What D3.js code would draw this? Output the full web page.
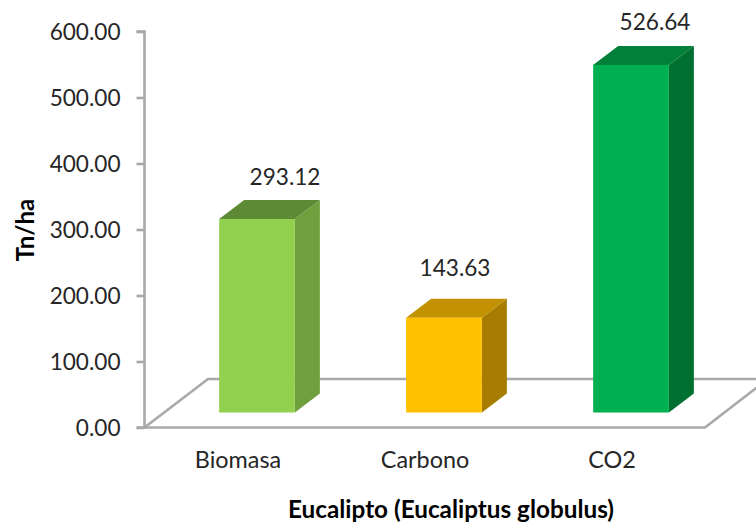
<!DOCTYPE html>
<html><head><meta charset="utf-8">
<script src="https://cdn.jsdelivr.net/npm/d3@7"></script>
<style>html,body{margin:0;background:#fff}svg{display:block}text{font-family:Lato,"Open Sans",sans-serif;fill:#262626}</style>
</head><body><svg id="c" width="756" height="526"></svg>
<script>
const categories=["Biomasa","Carbono","CO2"];
const values=[293.12,143.63,526.64];
const labels=["293.12","143.63","526.64"];
const frontColors=["#92d050","#ffc000","#00b050"];
const sideColors=["#70a03e","#a67d00","#007030"];
const topColors=["#5f8a35","#c29200","#008038"];
const yTicks=[0,100,200,300,400,500,600];
const xTitle="Eucalipto (Eucaliptus globulus)";
const yTitle="Tn/ha";

const svg=d3.select("#c");
const y=d3.scaleLinear().domain([0,600]).range([427.5,31.5]);
const x=d3.scaleBand().domain(categories).range([163.5,724.5]).paddingInner(0.595).paddingOuter(0.2975);
const dx=25,dy=19,lift=15;
const labelShiftX=[28,11,24],labelShiftY=[-34,-42,-35];
const gray="#a9a9a9";
const line=(pts,w=2.6)=>svg.append("path").attr("d",d3.line()(pts)).attr("fill","none").attr("stroke",gray).attr("stroke-width",w);
// floor
line([[144.5,y(0)],[208,379],[760,379]]);
line([[144.5,y(0)],[705,y(0)],[760,385]]);
// axis
const ax=svg.append("g").attr("transform","translate(144.5,0)")
 .call(d3.axisLeft(y).tickValues(yTicks).tickFormat(d3.format(".2f")).tickSize(8).tickPadding(16));
ax.selectAll("path,line").attr("stroke",gray).attr("stroke-width",2.6);
ax.select("path").attr("d","M-8,31.5H0V427.5H-8");
ax.selectAll("text").attr("font-size",22.6).attr("dy","0.36em").attr("fill","#262626");
// bars
categories.forEach((c,i)=>{
 const x0=x(c),x1=x0+x.bandwidth(),mid=x0+x.bandwidth()/2,b=y(0)-lift,t=y(values[i])-lift;
 svg.append("polygon").attr("points",[[x1,t],[x1+dx,t-dy],[x1+dx,b-dy],[x1,b]].join(" ")).attr("fill",sideColors[i]);
 svg.append("polygon").attr("points",[[x0,t],[x0+dx,t-dy],[x1+dx,t-dy],[x1,t]].join(" ")).attr("fill",topColors[i]);
 svg.append("rect").attr("x",x0).attr("y",t).attr("width",x.bandwidth()).attr("height",b-t).attr("fill",frontColors[i]);
 svg.append("text").attr("x",mid+labelShiftX[i]).attr("y",t+labelShiftY[i]).attr("text-anchor","middle").attr("font-size",22.6).text(labels[i]);
 svg.append("text").attr("x",mid-19).attr("y",468).attr("text-anchor","middle").attr("font-size",23.4).text(c);
});
svg.append("text").attr("x",451).attr("y",518).attr("text-anchor","middle").attr("font-size",24.3).attr("font-weight",700).style("fill","#000").text(xTitle);
svg.append("text").attr("transform","translate(34,230) rotate(-90)").attr("text-anchor","middle").attr("font-size",24).attr("font-weight",700).style("fill","#000").text(yTitle);
</script></body></html>
